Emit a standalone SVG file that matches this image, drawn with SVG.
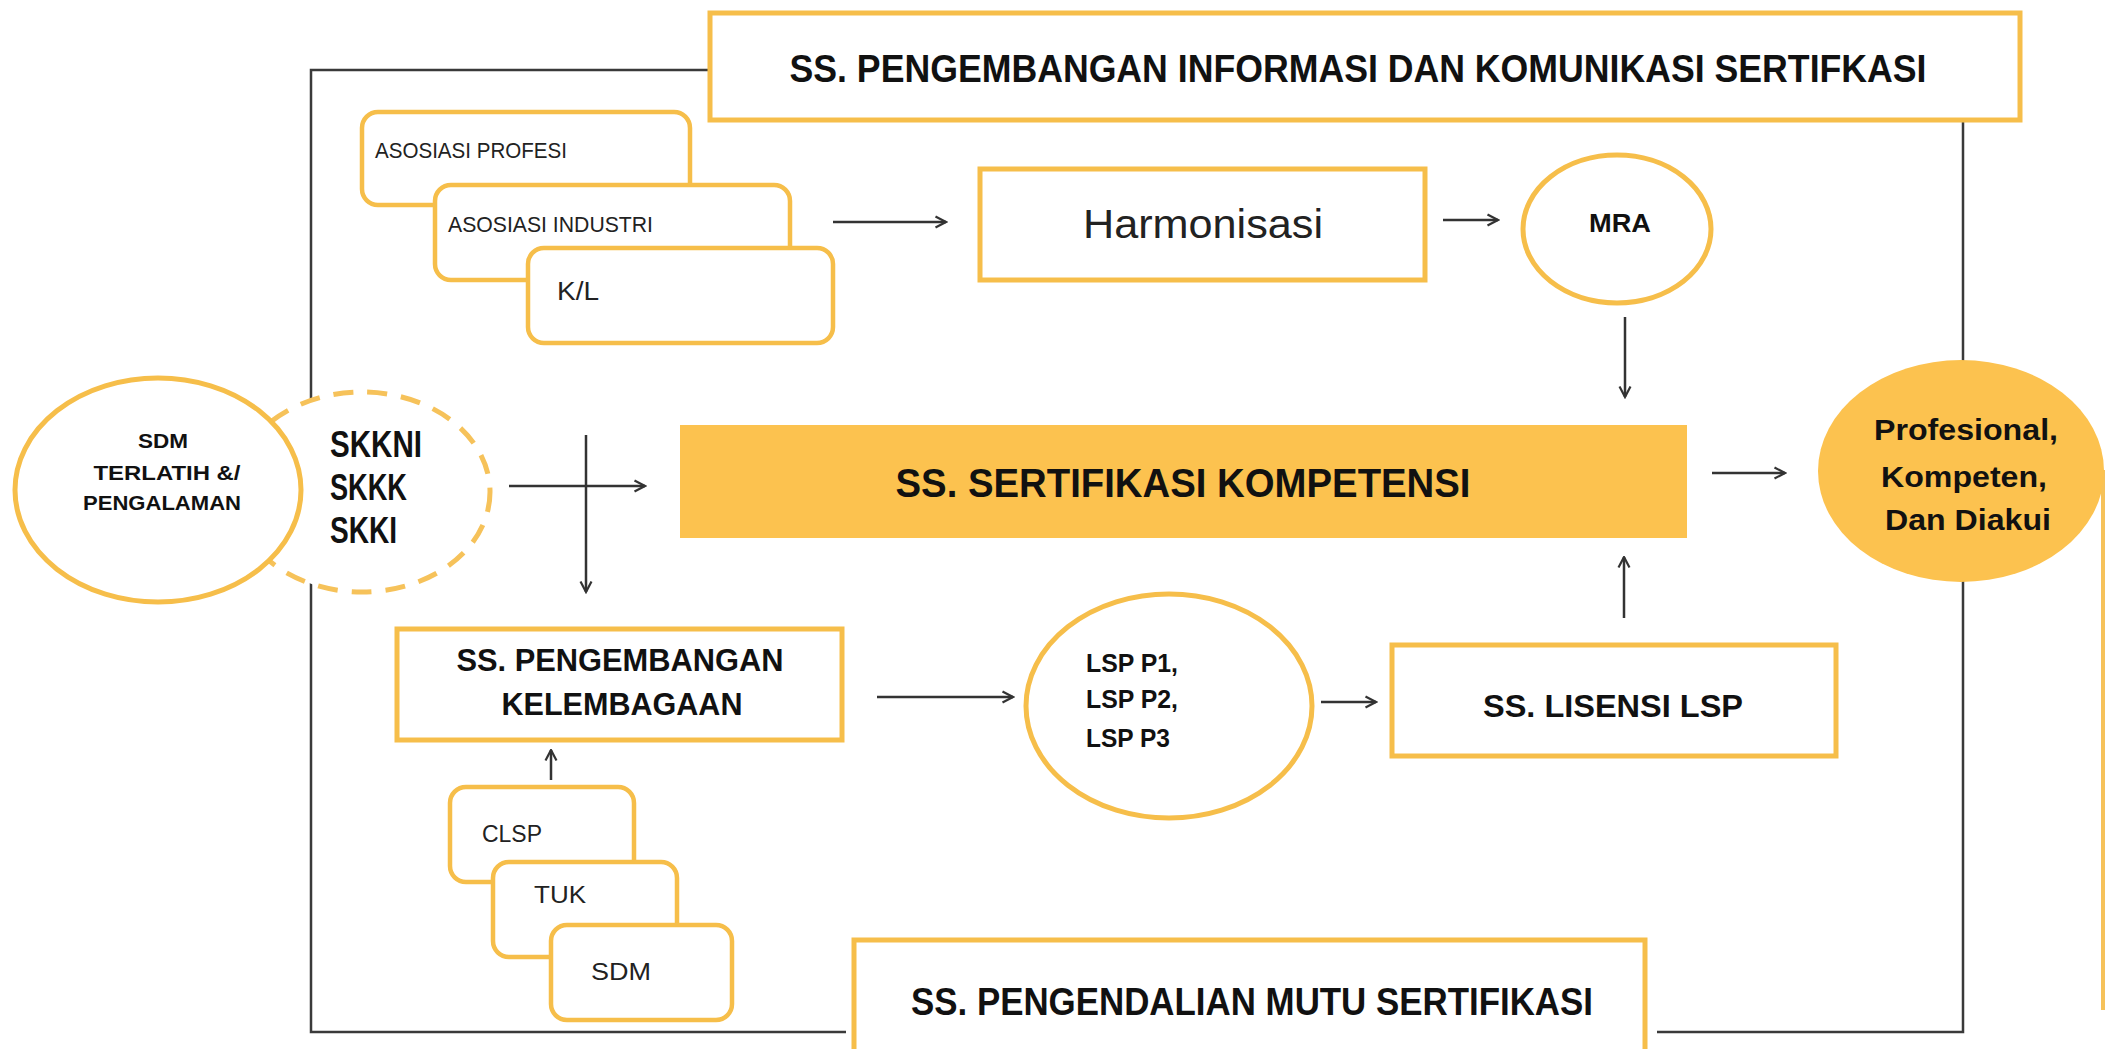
<svg xmlns="http://www.w3.org/2000/svg" width="2106" height="1049" viewBox="0 0 2106 1049">
<style>
.box{fill:#fff;stroke:#F6BE4A;stroke-width:5}
.rbox{fill:#fff;stroke:#F6BE4A;stroke-width:4.5}
.solid{fill:#FCC24F;stroke:none}
.frame{fill:none;stroke:#3a3a3a;stroke-width:2.5}
.arr{fill:none;stroke:#333;stroke-width:2.5;marker-end:url(#ah)}
.b{font-family:"Liberation Sans",Arial,sans-serif;font-weight:bold;fill:#111}
.r{font-family:"Liberation Sans",Arial,sans-serif;fill:#222}
.m{text-anchor:middle}
</style>
<defs>
<marker id="ah" viewBox="0 0 14 14" refX="12.5" refY="7" markerWidth="14" markerHeight="14" markerUnits="userSpaceOnUse" orient="auto">
<path d="M2,1.5 L12.5,7 L2,12.5" fill="none" stroke="#333" stroke-width="2.2"/>
</marker>
</defs>
<rect width="2106" height="1049" fill="#fff"/>

<g id="frame">
<path class="frame" d="M710,70 H311 V1032 H846"/>
<path class="frame" d="M1657,1032 H1963 V120"/>
<line x1="2103" y1="470" x2="2103" y2="1010" stroke="#F6C25A" stroke-width="4"/>
</g>

<g id="connectors">
<line class="arr" x1="833" y1="222" x2="946" y2="222"/>
<line class="arr" x1="1443" y1="220" x2="1498" y2="220"/>
<line class="arr" x1="1625" y1="317" x2="1625" y2="397"/>
<line class="arr" x1="1712" y1="473" x2="1785" y2="473"/>
<line class="arr" x1="509" y1="486" x2="645" y2="486"/>
<line class="arr" x1="586" y1="435" x2="586" y2="592"/>
<line class="arr" x1="551" y1="780" x2="551" y2="750"/>
<line class="arr" x1="877" y1="697" x2="1013" y2="697"/>
<line class="arr" x1="1321" y1="702" x2="1376" y2="702"/>
<line class="arr" x1="1624" y1="618" x2="1624" y2="557"/>
</g>

<g id="node-info">
<rect class="box" x="710" y="13" width="1310" height="107"/>
<text class="b m" x="1358" y="82" font-size="38" textLength="1137" lengthAdjust="spacingAndGlyphs">SS. PENGEMBANGAN INFORMASI DAN KOMUNIKASI SERTIFKASI</text>
</g>

<g id="node-asosiasi-profesi">
<rect class="rbox" x="362" y="112" width="328" height="93" rx="16"/>
<text class="r" x="375" y="158" font-size="22" textLength="192" lengthAdjust="spacingAndGlyphs">ASOSIASI PROFESI</text>
</g>
<g id="node-asosiasi-industri">
<rect class="rbox" x="435" y="185" width="355" height="95" rx="16"/>
<text class="r" x="448" y="232" font-size="22" textLength="205" lengthAdjust="spacingAndGlyphs">ASOSIASI INDUSTRI</text>
</g>
<g id="node-kl">
<rect class="rbox" x="528" y="248" width="305" height="95" rx="16"/>
<text class="r" x="557" y="300" font-size="25" textLength="42" lengthAdjust="spacingAndGlyphs">K/L</text>
</g>

<g id="node-harmonisasi">
<rect class="box" x="980" y="169" width="445" height="111"/>
<text class="r m" x="1203" y="238" font-size="40" textLength="240" lengthAdjust="spacingAndGlyphs">Harmonisasi</text>
</g>

<g id="node-mra">
<ellipse class="box" cx="1617" cy="229" rx="94" ry="74"/>
<text class="b m" x="1620" y="232" font-size="26" textLength="62" lengthAdjust="spacingAndGlyphs">MRA</text>
</g>

<g id="node-skkni">
<ellipse cx="362" cy="492" rx="128" ry="100" fill="#fff" stroke="#F6C25A" stroke-width="5" stroke-dasharray="20 14"/>
<text class="b" x="330" y="457" font-size="36" textLength="92" lengthAdjust="spacingAndGlyphs">SKKNI</text>
<text class="b" x="330" y="500" font-size="36" textLength="77" lengthAdjust="spacingAndGlyphs">SKKK</text>
<text class="b" x="330" y="543" font-size="36" textLength="67" lengthAdjust="spacingAndGlyphs">SKKI</text>
</g>

<g id="node-sdm-terlatih">
<ellipse class="box" cx="158" cy="490" rx="143" ry="112"/>
<text class="b m" x="163" y="448" font-size="21" textLength="50" lengthAdjust="spacingAndGlyphs">SDM</text>
<text class="b m" x="167" y="480" font-size="21" textLength="147" lengthAdjust="spacingAndGlyphs">TERLATIH &amp;/</text>
<text class="b m" x="162" y="510" font-size="21" textLength="158" lengthAdjust="spacingAndGlyphs">PENGALAMAN</text>
</g>

<g id="node-sertifikasi">
<rect class="solid" x="680" y="425" width="1007" height="113"/>
<text class="b m" x="1183" y="497" font-size="40" textLength="575" lengthAdjust="spacingAndGlyphs">SS. SERTIFIKASI KOMPETENSI</text>
</g>

<g id="node-profesional">
<ellipse class="solid" cx="1961" cy="471" rx="143" ry="111"/>
<text class="b m" x="1966" y="440" font-size="30" textLength="184" lengthAdjust="spacingAndGlyphs">Profesional,</text>
<text class="b m" x="1964" y="487" font-size="30" textLength="166" lengthAdjust="spacingAndGlyphs">Kompeten,</text>
<text class="b m" x="1968" y="530" font-size="30" textLength="166" lengthAdjust="spacingAndGlyphs">Dan Diakui</text>
</g>

<g id="node-kelembagaan">
<rect class="box" x="397" y="629" width="445" height="111"/>
<text class="b m" x="620" y="671" font-size="31" textLength="327" lengthAdjust="spacingAndGlyphs">SS. PENGEMBANGAN</text>
<text class="b m" x="622" y="715" font-size="31" textLength="241" lengthAdjust="spacingAndGlyphs">KELEMBAGAAN</text>
</g>

<g id="node-clsp">
<rect class="rbox" x="450" y="787" width="184" height="95" rx="16"/>
<text class="r" x="482" y="842" font-size="24" textLength="60" lengthAdjust="spacingAndGlyphs">CLSP</text>
</g>
<g id="node-tuk">
<rect class="rbox" x="493" y="862" width="184" height="95" rx="16"/>
<text class="r" x="534" y="903" font-size="24" textLength="52" lengthAdjust="spacingAndGlyphs">TUK</text>
</g>
<g id="node-sdm">
<rect class="rbox" x="551" y="925" width="181" height="95" rx="16"/>
<text class="r" x="591" y="980" font-size="24" textLength="60" lengthAdjust="spacingAndGlyphs">SDM</text>
</g>

<g id="node-lsp">
<ellipse class="box" cx="1169" cy="706" rx="143" ry="112"/>
<text class="b" x="1086" y="672" font-size="26" textLength="92" lengthAdjust="spacingAndGlyphs">LSP P1,</text>
<text class="b" x="1086" y="708" font-size="26" textLength="92" lengthAdjust="spacingAndGlyphs">LSP P2,</text>
<text class="b" x="1086" y="747" font-size="26" textLength="84" lengthAdjust="spacingAndGlyphs">LSP P3</text>
</g>

<g id="node-lisensi">
<rect class="box" x="1392" y="645" width="444" height="111"/>
<text class="b m" x="1613" y="717" font-size="32" textLength="260" lengthAdjust="spacingAndGlyphs">SS. LISENSI LSP</text>
</g>

<g id="node-mutu">
<rect class="box" x="854" y="940" width="791" height="130"/>
<text class="b m" x="1252" y="1015" font-size="38" textLength="682" lengthAdjust="spacingAndGlyphs">SS. PENGENDALIAN MUTU SERTIFIKASI</text>
</g>
</svg>
